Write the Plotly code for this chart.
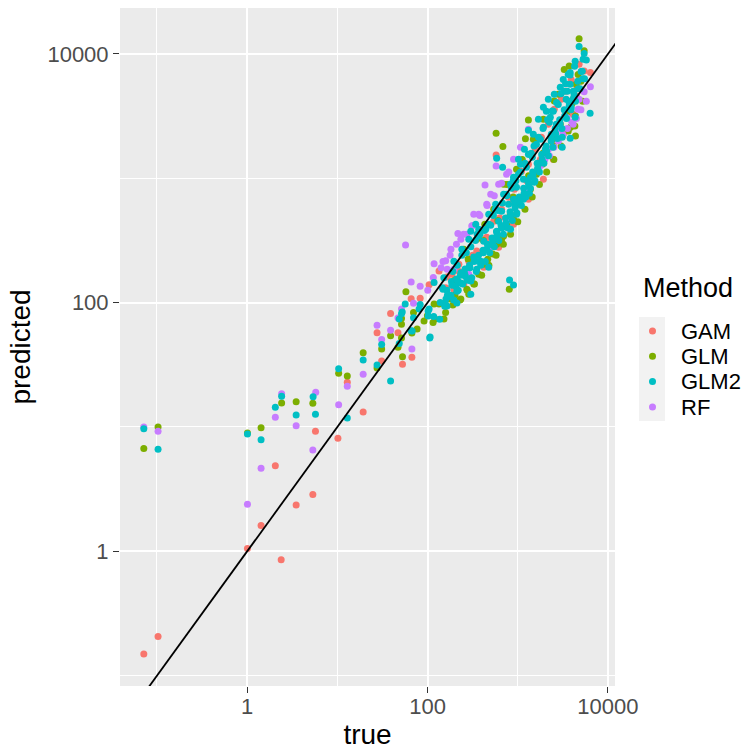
import numpy as np
import plotly.graph_objects as go

gam_log_true = [-0.988, -1.146, 0.312, 0.154, 0.003, 0.377, 0.543, 0.728, 0.757, 1.006, 1.110, 1.286,
                1.491, 1.440, 1.590, 1.672, 1.722, 1.826, 1.818, 1.918, 2.017, 2.127, 2.270, 2.760,
                3.680, 3.736, 3.805, 3.658, 2.215, 2.347, 2.457, 2.545, 2.656, 2.733, 2.821, 2.898,
                2.964, 3.041, 3.118, 3.196, 3.262, 3.339, 3.405, 3.482, 3.537, 3.592, 2.402, 2.623,
                2.788, 2.953, 3.118, 3.284, 3.394, 3.504, 3.614, 2.292,
                2.20, 2.35, 2.50, 2.65, 2.80, 2.95, 3.10, 3.25, 3.40, 3.55, 3.65]
gam_log_pred = [-0.684, -0.826, 0.689, 0.207, 0.022, -0.068, 0.373, 0.456, 0.965, 0.909, 1.359, 1.120,
                1.530, 1.757, 1.913, 1.757, 1.504, 1.560, 2.030, 2.036, 2.143, 2.255, 2.229, 3.187,
                3.916, 3.862, 3.851, 3.728, 2.205, 2.309, 2.333, 2.414, 2.526, 2.655, 2.751, 2.847,
                2.912, 3.056, 3.112, 3.233, 3.329, 3.434, 3.554, 3.635, 3.699, 3.795, 2.149, 2.285,
                2.446, 2.631, 2.831, 2.992, 3.153, 3.353, 3.514, 2.108,
                2.12, 2.25, 2.38, 2.52, 2.68, 2.82, 2.98, 3.15, 3.32, 3.52, 3.66]

glm_log_true = [-0.988, -1.146, 0.003, 0.154, 0.382, 0.543, 0.728, 1.014, 1.110, 1.286, 1.440, 1.491,
                1.590, 1.711, 1.711, 1.711, 1.672, 1.722, 1.826, 1.760, 1.844, 1.998, 2.061, 2.072,
                2.760, 2.835, 3.085, 2.939, 2.667, 2.906, 3.585, 3.633, 3.680, 3.736, 3.570, 3.405,
                3.118, 3.640, 3.394, 2.457, 2.843, 2.917,
                2.237, 2.303, 2.369, 2.435, 2.512, 2.567, 2.623, 2.722, 2.766, 2.821, 2.876, 2.953,
                3.008, 3.074, 3.140, 3.207, 3.273, 3.317, 3.394, 3.471, 3.537, 3.614, 3.647, 3.669,
                2.402, 2.545, 2.634, 2.733, 2.843, 2.986, 3.173, 3.284, 3.449, 3.515, 2.127, 2.083,
                2.182, 1.961, 1.884,
                2.20, 2.28, 2.36, 2.44, 2.52, 2.60, 2.68, 2.76, 2.84, 2.92, 3.00, 3.08, 3.16, 3.24,
                3.32, 3.40, 3.48, 3.56, 3.64, 3.72, 2.30, 2.45, 2.62, 2.78, 2.95, 3.12, 3.28, 3.45,
                3.60, 3.70, 3.20, 3.05, 2.88]
glm_log_pred = [1.000, 0.827, 0.952, 0.994, 1.193, 1.203, 1.190, 1.431, 1.410, 1.597, 1.474, 1.626,
                1.733, 1.873, 1.825, 1.715, 1.640, 1.565, 1.755, 2.087, 1.921, 1.894, 1.841, 1.988,
                3.361, 3.255, 3.317, 2.697, 2.349, 2.108, 3.410, 3.420, 4.122, 4.026, 3.902, 3.621,
                3.468, 3.340, 3.259, 2.068, 2.536, 2.711,
                2.028, 2.060, 2.028, 2.108, 2.149, 2.229, 2.309, 2.390, 2.470, 2.510, 2.631, 2.671,
                2.791, 2.871, 2.912, 3.032, 3.112, 3.193, 3.313, 3.434, 3.514, 3.635, 3.755, 3.835,
                2.430, 2.510, 2.631, 2.751, 2.952, 3.072, 3.313, 3.474, 3.675, 3.875, 1.988, 1.868,
                1.868, 1.852, 1.787,
                1.92, 1.98, 2.02, 2.10, 2.15, 2.22, 2.30, 2.38, 2.47, 2.55, 2.65, 2.75, 2.85, 2.95,
                3.05, 3.15, 3.26, 3.38, 3.50, 3.62, 2.18, 2.35, 2.50, 2.66, 2.85, 3.02, 3.20, 3.40,
                3.60, 3.78, 3.30, 3.15, 2.95]

glm2_log_true = [-1.146, -0.988, 0.003, 0.154, 0.312, 0.382, 0.543, 0.731, 0.757, 1.014, 1.110, 1.286,
                 1.440, 1.590, 1.491, 1.711, 1.686, 1.818, 1.752, 1.844, 1.918, 2.024, 2.006, 2.068,
                 2.135, 2.072,
                 2.171, 2.193, 2.259, 2.325, 2.369, 2.479, 2.413, 2.479, 2.545, 2.512, 2.589, 2.656,
                 2.678, 2.623, 2.722, 2.766, 2.700, 2.788, 2.843, 2.821, 2.898, 2.876, 2.953, 2.920,
                 2.986, 3.008, 3.063, 3.030, 3.096, 3.129, 3.185, 3.118, 3.162, 3.207, 3.173, 3.251,
                 3.284, 3.229, 3.317, 3.361, 3.339, 3.405, 3.449, 3.471, 3.504, 3.515, 3.559, 3.581,
                 3.636, 3.581, 3.680, 3.736, 3.802, 3.636, 3.493, 3.581, 3.493, 2.909, 2.953, 2.832,
                 2.766, 3.118, 2.292, 2.380, 2.457, 2.567, 2.336, 2.325, 2.204, 2.215, 2.017, 2.006,
                 1.906, 2.028, 1.719, 1.686, 1.829, 2.567, 2.645, 2.479, 2.534, 2.678, 2.755, 2.843,
                 2.953, 3.008, 3.074, 3.284, 3.394, 3.427, 3.537, 3.625, 3.592, 3.702, 3.724, 2.920,
                 2.986, 3.063, 3.140, 3.229, 3.306, 3.372,
                 2.14, 2.165, 2.19, 2.215, 2.18, 2.24, 2.265, 2.29, 2.315, 2.28, 2.34, 2.365,
                 2.33, 2.39, 2.415, 2.38, 2.44, 2.465, 2.43, 2.49, 2.515, 2.48, 2.54, 2.565,
                 2.53, 2.59, 2.615, 2.58, 2.64, 2.665, 2.63, 2.69, 2.715, 2.68, 2.74, 2.765,
                 2.73, 2.79, 2.815, 2.78, 2.84, 2.865, 2.83, 2.89, 2.915, 2.88, 2.94, 2.965,
                 2.93, 2.99, 3.015, 2.98, 3.04, 3.065, 3.03, 3.09, 3.115, 3.08, 3.14, 3.165,
                 3.13, 3.19, 3.215, 3.18, 3.24, 3.265, 3.23, 3.29, 3.315, 3.28, 3.34, 3.365,
                 3.33, 3.39, 3.415, 3.38, 3.44, 3.465, 3.43, 3.49, 3.515, 3.48, 3.54, 3.565,
                 3.53, 3.59, 3.615, 3.58, 3.64, 3.665, 3.63, 3.69, 3.715, 3.74, 3.76,
                 2.22, 2.27, 2.32, 2.37, 2.42, 2.47, 2.52, 2.57, 2.62, 2.67, 2.72, 2.77,
                 2.82, 2.87, 2.92, 2.97, 3.02, 3.07, 3.12, 3.17, 3.22, 3.27, 3.32, 3.37,
                 3.42, 3.47, 3.52, 3.57, 3.62, 3.67, 3.72, 2.55, 2.75, 2.95, 3.15, 3.35, 3.55]
glm2_log_pred = [0.986, 0.821, 0.944, 0.898, 1.158, 1.247, 1.096, 1.243, 1.102, 1.468, 1.072, 1.538,
                 1.498, 1.369, 1.664, 1.910, 1.672, 1.773, 1.988, 1.878, 1.985, 1.715, 1.932, 1.889,
                 1.867, 2.162,
                 2.108, 1.996, 2.060, 1.996, 2.157, 2.068, 2.229, 2.173, 2.269, 2.366, 2.333, 2.430,
                 2.285, 2.494, 2.510, 2.574, 2.623, 2.655, 2.607, 2.735, 2.791, 2.871, 2.831, 2.952,
                 2.928, 3.032, 2.992, 3.112, 3.088, 2.879, 2.968, 3.193, 3.169, 3.273, 3.353, 3.313,
                 3.410, 3.474, 3.538, 3.490, 3.635, 3.675, 3.594, 3.731, 3.795, 3.699, 3.835, 3.755,
                 3.940, 3.851, 4.060, 4.004, 3.522, 3.490, 3.329, 3.321, 3.249, 2.181, 2.141, 3.088,
                 3.161, 3.386, 2.333, 2.430, 2.510, 2.590, 2.173, 2.092, 2.028, 1.972, 1.948, 1.892,
                 1.948, 1.723, 1.924, 1.868, 1.771, 2.534, 2.590, 2.574, 2.631, 2.711, 2.791, 2.871,
                 3.008, 3.153, 3.233, 3.570, 3.538, 3.434, 3.635, 3.675, 3.570, 3.859, 3.956, 2.590,
                 2.711, 2.831, 3.008, 3.112, 3.233, 3.353,
                 2.00, 2.12, 1.97, 2.10, 2.20, 2.05, 2.17, 2.02, 2.13, 2.25, 2.10, 2.22,
                 2.30, 2.15, 2.27, 2.38, 2.18, 2.30, 2.40, 2.20, 2.33, 2.45, 2.25, 2.38,
                 2.50, 2.30, 2.42, 2.55, 2.33, 2.47, 2.58, 2.40, 2.52, 2.63, 2.45, 2.57,
                 2.70, 2.50, 2.62, 2.74, 2.55, 2.68, 2.80, 2.60, 2.73, 2.86, 2.66, 2.79,
                 2.92, 2.72, 2.85, 2.98, 2.78, 2.92, 3.05, 2.85, 2.98, 3.12, 2.92, 3.05,
                 3.19, 2.98, 3.12, 3.26, 3.05, 3.19, 3.33, 3.12, 3.26, 3.40, 3.18, 3.33,
                 3.47, 3.25, 3.40, 3.54, 3.32, 3.47, 3.61, 3.40, 3.55, 3.68, 3.48, 3.62,
                 3.76, 3.55, 3.70, 3.83, 3.62, 3.78, 3.90, 3.72, 3.86, 3.80, 3.95,
                 2.06, 2.14, 2.19, 2.24, 2.21, 2.28, 2.36, 2.33, 2.40, 2.46, 2.48, 2.54,
                 2.60, 2.64, 2.70, 2.76, 2.82, 2.88, 2.95, 3.02, 3.08, 3.15, 3.22, 3.30,
                 3.36, 3.44, 3.50, 3.58, 3.65, 3.72, 3.80, 2.55, 2.75, 2.98, 3.20, 3.45, 3.70]

rf_log_true = [-1.146, -0.988, 0.154, 0.003, 0.728, 0.543, 0.312, 0.382, 0.760, 1.014, 1.110, 1.286,
               1.440, 1.491, 1.590, 1.672, 1.711, 1.826, 1.818, 1.844, 1.918, 2.002, 2.072, 2.064,
               2.171, 1.756,
               3.805, 3.736, 3.680, 3.669, 3.548, 2.336, 2.637, 2.760, 2.490, 2.201, 2.512, 2.218,
               2.292, 2.259, 2.369, 2.435, 2.567, 2.656, 2.700, 2.788, 2.876, 2.953, 3.030, 3.118,
               3.25, 3.35, 3.45, 3.55, 3.65, 2.457, 2.678, 2.898, 3.118, 3.339, 3.449, 3.614,
               2.15, 2.25, 2.32, 2.40, 2.50, 2.58, 2.66, 2.74, 2.82, 2.90,
               3.30, 3.40, 3.50, 3.60, 3.70, 3.76]
rf_log_pred = [1.000, 0.965, 0.668, 0.379, 0.815, 1.010, 1.078, 1.267, 1.279, 1.179, 1.327, 1.423,
               1.817, 1.704, 1.777, 1.876, 1.948, 1.626, 2.165, 1.994, 2.132, 2.100, 2.312, 2.202,
               2.331, 2.464,
               3.736, 3.696, 3.635, 3.554, 3.487, 2.556, 2.946, 3.099, 2.617, 2.336, 2.711, 2.269,
               2.269, 2.430, 2.510, 2.550, 2.711, 2.791, 2.871, 2.952, 3.032, 3.153, 3.249, 3.394,
               3.10, 3.18, 3.30, 3.40, 3.48, 2.229, 2.430, 2.671, 2.912, 3.233, 3.394, 3.434,
               2.28, 2.38, 2.47, 2.55, 2.62, 2.70, 2.78, 2.86, 2.96, 3.05,
               3.15, 3.25, 3.35, 3.45, 3.55, 3.62]

methods = ["GAM", "GLM", "GLM2", "RF"]
colors = {"GAM": "#F8766D", "GLM": "#7CAE00", "GLM2": "#00BFC4", "RF": "#C77CFF"}
series = {
    "GAM": (gam_log_true, gam_log_pred),
    "GLM": (glm_log_true, glm_log_pred),
    "GLM2": (glm2_log_true, glm2_log_pred),
    "RF": (rf_log_true, rf_log_pred),
}
draw_order = ["GAM", "GLM", "RF", "GLM2"]

FONT = "Liberation Sans, Arial, Helvetica, sans-serif"
W, H = 750, 750
L, R, T, B = 120, 135, 8, 64
X_RANGE = [-1.41, 4.078]
Y_RANGE = [-1.083, 4.369]

fig = go.Figure()
for m in draw_order:
    lt, lp = series[m]
    fig.add_trace(go.Scatter(
        x=10 ** np.array(lt), y=10 ** np.array(lp), mode="markers", name=m,
        marker=dict(color=colors[m], size=7, line=dict(width=0)),
        showlegend=False,
    ))

# identity line y = x
line_ends = [10 ** (X_RANGE[0] - 1), 10 ** (X_RANGE[1] + 1)]
fig.add_trace(go.Scatter(x=line_ends, y=line_ends, mode="lines",
                         line=dict(color="black", width=1.8), showlegend=False, hoverinfo="skip"))

axis_common = dict(
    type="log", showline=False, zeroline=False, automargin=False,
    gridcolor="white", gridwidth=2,
    ticks="outside", ticklen=6, tickwidth=1.2, tickcolor="#333333",
    tickfont=dict(family=FONT, size=22, color="#4D4D4D"),
    tickvals=[1, 100, 10000], ticktext=["1", "100", "10000"],
    minor=dict(tickvals=[0.1, 10, 1000], showgrid=True, gridcolor="white", gridwidth=1, ticks=""),
)
fig.update_xaxes(**axis_common, range=X_RANGE, ticklabelstandoff=-5,
                 title=dict(text="true", font=dict(family=FONT, size=28, color="black"), standoff=7))
fig.update_yaxes(**axis_common, range=Y_RANGE,
                 title=dict(text="predicted", font=dict(family=FONT, size=28, color="black"), standoff=8))

pw, ph = W - L - R, H - T - B
def px2paper(px, py):
    return (px - L) / pw, (H - B - py) / ph

shapes = []
annotations = []
# legend key background
x0, y0 = px2paper(639, 421)
x1, y1 = px2paper(665, 317)
shapes.append(dict(type="rect", xref="paper", yref="paper", x0=x0, y0=y0, x1=x1, y1=y1,
                   fillcolor="#F2F2F2", line=dict(width=0), layer="below"))
tx, ty = px2paper(641, 288)
annotations.append(dict(text="Method", xref="paper", yref="paper", x=tx, y=ty, xanchor="left",
                        yanchor="middle", showarrow=False, font=dict(family=FONT, size=27, color="black")))
key_y = [331, 356.3, 381.6, 407]
for m, ky in zip(methods, key_y):
    cx, cy = px2paper(652.5, ky)
    rx, ry = 3.5 / pw, 3.5 / ph
    shapes.append(dict(type="circle", xref="paper", yref="paper", x0=cx - rx, x1=cx + rx,
                       y0=cy - ry, y1=cy + ry, fillcolor=colors[m], line=dict(width=0)))
    lx, ly = px2paper(679, ky)
    annotations.append(dict(text=m, xref="paper", yref="paper", x=lx, y=ly, xanchor="left",
                            yanchor="middle", showarrow=False, font=dict(family=FONT, size=22, color="black")))

fig.update_layout(
    width=W, height=H, margin=dict(l=L, r=R, t=T, b=B),
    paper_bgcolor="white", plot_bgcolor="#EBEBEB",
    showlegend=False, shapes=shapes, annotations=annotations,
    font=dict(family=FONT),
)
fig.write_html("out.html")
